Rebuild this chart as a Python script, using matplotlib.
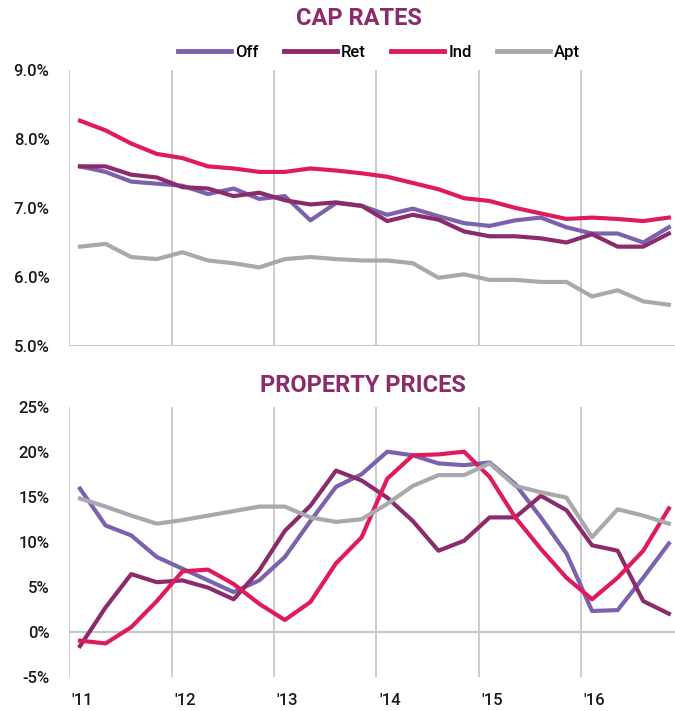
import numpy as np
import matplotlib
matplotlib.use("Agg")
import matplotlib.pyplot as plt

plt.rcParams['font.family'] = ['Roboto', 'DejaVu Sans']

# quarterly data, 2011Q1 .. 2016Q4
years = ["'11", "'12", "'13", "'14", "'15", "'16"]
series = ["Off", "Ret", "Ind", "Apt"]
colors = ["#7B61AE", "#8B2B6C", "#E01B5B", "#A9A9AD"]

cap_off = [7.60, 7.52, 7.38, 7.35, 7.32, 7.20, 7.28, 7.13, 7.17, 6.82, 7.07, 7.03,
           6.90, 6.99, 6.88, 6.78, 6.74, 6.82, 6.86, 6.72, 6.63, 6.63, 6.50, 6.72]
cap_ret = [7.60, 7.60, 7.48, 7.44, 7.30, 7.28, 7.17, 7.22, 7.11, 7.05, 7.08, 7.03,
           6.81, 6.90, 6.83, 6.66, 6.59, 6.59, 6.56, 6.50, 6.62, 6.44, 6.44, 6.63]
cap_ind = [8.26, 8.12, 7.93, 7.78, 7.72, 7.60, 7.57, 7.52, 7.52, 7.57, 7.54, 7.50,
           7.45, 7.36, 7.27, 7.14, 7.10, 7.00, 6.92, 6.84, 6.86, 6.84, 6.81, 6.86]
cap_apt = [6.44, 6.48, 6.29, 6.26, 6.36, 6.24, 6.20, 6.14, 6.26, 6.29, 6.26, 6.24,
           6.24, 6.20, 5.99, 6.04, 5.96, 5.96, 5.93, 5.93, 5.72, 5.81, 5.65, 5.60]

pp_off = [15.9, 11.8, 10.7, 8.3, 7.0, 5.7, 4.4, 5.7, 8.3, 12.3, 16.1, 17.5,
          20.0, 19.6, 18.7, 18.5, 18.8, 16.4, 12.7, 8.7, 2.3, 2.4, 6.0, 9.8]
pp_ret = [-1.6, 2.7, 6.4, 5.5, 5.7, 4.9, 3.6, 6.8, 11.2, 14.0, 17.9, 16.8,
          14.9, 12.3, 9.0, 10.1, 12.7, 12.7, 15.1, 13.5, 9.6, 9.0, 3.4, 2.0]
pp_ind = [-1.0, -1.3, 0.5, 3.4, 6.7, 6.9, 5.3, 3.1, 1.3, 3.3, 7.6, 10.5,
          17.0, 19.6, 19.7, 20.0, 17.2, 12.7, 9.2, 6.0, 3.6, 6.0, 9.0, 13.7]
pp_apt = [14.8, 13.9, 12.9, 12.0, 12.4, 12.9, 13.4, 13.9, 13.9, 12.7, 12.2, 12.5,
          14.2, 16.2, 17.4, 17.4, 18.7, 16.2, 15.5, 14.9, 10.5, 13.6, 12.9, 12.0]

cap_ticks = [5.0, 6.0, 7.0, 8.0, 9.0]
pp_ticks = [-5, 0, 5, 10, 15, 20, 25]

grid_c = "#C8C8C8"
title_c = "#8B2B6C"
x = np.arange(len(cap_off))
year_lines = np.arange(6) * 4 - 0.42
year_labels_at = np.arange(6) * 4 + 0.1

fig = plt.figure(figsize=(6.75, 7.11), dpi=100)
W, H = 675, 711
ax1 = fig.add_axes([69 / W, 1 - 346.3 / H, 1 - 69 / W, (346.3 - 69.5) / H])
ax2 = fig.add_axes([69 / W, 1 - 676.7 / H, 1 - 69 / W, (676.7 - 406.7) / H])

for ax in (ax1, ax2):
    for s in ax.spines.values():
        s.set_visible(False)
    for xv in year_lines:
        ax.axvline(xv, color=grid_c, lw=1.3, zorder=1)
    ax.set_xlim(-0.43, 23.24)
    ax.tick_params(axis='both', which='both', length=0)
    ax.tick_params(axis='y', pad=14, labelsize=12, labelcolor="#1A1A1A")

ax1.axhline(5.0, color=grid_c, lw=1.5, zorder=1)
ax2.axhline(0, color=grid_c, lw=1.5, zorder=1)

lines = []
for vals, c, name in zip([cap_off, cap_ret, cap_ind, cap_apt], colors, series):
    ln, = ax1.plot(x, vals, color=c, lw=3, label=name, zorder=3)
    lines.append(ln)
for vals, c in zip([pp_off, pp_ret, pp_ind, pp_apt], colors):
    ax2.plot(x, vals, color=c, lw=3, zorder=3)

ax1.set_ylim(5, 9)
ax1.set_yticks(cap_ticks, [f"{v:.1f}%" for v in cap_ticks], fontweight='medium')
ax1.set_xticks([])

ax2.set_ylim(-5, 25)
ax2.set_yticks(pp_ticks, [f"{v}%" for v in pp_ticks], fontweight='medium')
ax2.set_xticks([])
ax2.set_xticks(year_labels_at, years, minor=True, fontweight='medium')
ax2.tick_params(axis='x', which='minor', pad=12, labelsize=12, labelcolor="#1A1A1A")

fig.text(359 / W, 1 - 18.6 / H, "CAP RATES", ha='center', va='center',
         fontsize=17, fontweight='bold', color=title_c)
fig.text(362.5 / W, 1 - 385 / H, "PROPERTY PRICES", ha='center', va='center',
         fontsize=17, fontweight='bold', color=title_c)

leg = fig.legend(handles=lines, loc='center', bbox_to_anchor=(379 / W, 1 - 52.7 / H),
                 ncol=4, frameon=False, fontsize=12, handlelength=3.2,
                 handletextpad=0.25, columnspacing=1.5, borderpad=0, borderaxespad=0)
for t in leg.get_texts():
    t.set_fontweight('medium')
for h in leg.legend_handles:
    h.set_linewidth(3.5)

fig.savefig("out.png", dpi=100)
